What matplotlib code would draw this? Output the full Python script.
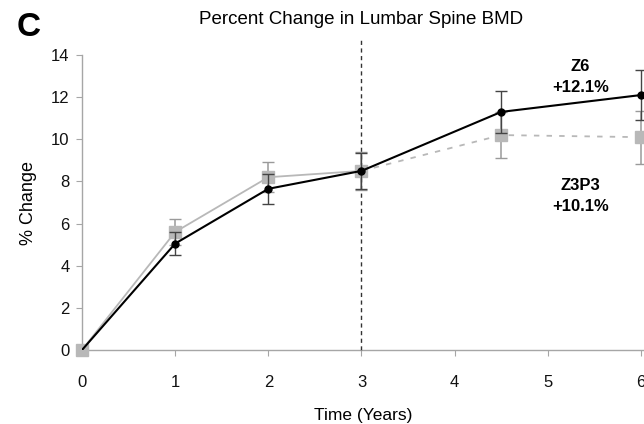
import matplotlib

matplotlib.use("Agg")
import matplotlib.pyplot as plt

plt.rcParams["font.family"] = ["Liberation Sans", "DejaVu Sans"]

# time points (years) and mean % change with error bars
years = [0, 1, 2, 3, 4.5, 6]
z6_mean = [0, 5.05, 7.65, 8.5, 11.3, 12.1]
z6_err = [0, 0.55, 0.7, 0.85, 1.0, 1.2]
z3p3_mean = [0, 5.6, 8.2, 8.5, 10.2, 10.1]
z3p3_err = [0, 0.6, 0.7, 0.9, 1.1, 1.25]
y_ticks = [0, 2, 4, 6, 8, 10, 12, 14]
x_ticks = [0, 1, 2, 3, 4, 5, 6]
switch_year = 3

GRAY = "#b8b8b8"
AXIS = "#a6a6a6"

fig = plt.figure(figsize=(6.44, 4.24), dpi=100, facecolor="white")
ax = fig.add_axes([0.1273, 0.1745, 0.8727, 0.6958])

# Z3P3: solid up to year 3, dashed afterwards
n3 = years.index(switch_year) + 1
ax.plot(years[:n3], z3p3_mean[:n3], color=GRAY, lw=1.3, zorder=2)
ax.plot(years[n3 - 1:], z3p3_mean[n3 - 1:], color=GRAY, lw=1.3,
        ls=(0, (3, 4)), zorder=2)
z3 = ax.errorbar(years, z3p3_mean, yerr=z3p3_err, fmt="s", color=GRAY,
                 ms=9, ecolor="#9a9a9a", elinewidth=1.1, capsize=4, zorder=3)
for art in z3.lines[0:1]:
    art.set_clip_on(False)

# Z6 continuous
ax.errorbar(years[1:], z6_mean[1:], yerr=z6_err[1:], fmt="o-", color="black",
            ms=5, lw=1.5, ecolor="#444444", elinewidth=1.0, capsize=4, zorder=4)
ax.plot(years[:2], z6_mean[:2], color="black", lw=1.5, zorder=4)

ax.plot([switch_year, switch_year], [0, 14.75], color="#333333", lw=1.0,
        ls=(0, (3, 2.5)), clip_on=False, zorder=1)

ax.set_xlim(0, 6.032)
ax.set_ylim(0, 14)
ax.set_xticks(x_ticks)
ax.set_yticks(y_ticks)
ax.tick_params(axis="both", labelsize=12, color=AXIS, length=4, width=0.8,
               labelcolor="#111111")
ax.tick_params(axis="x", pad=14)
ax.tick_params(axis="y", pad=5)
for side in ("top", "right"):
    ax.spines[side].set_visible(False)
for side in ("left", "bottom"):
    ax.spines[side].set_color(AXIS)
    ax.spines[side].set_linewidth(1.0)
ax.spines["bottom"].set_zorder(0)

ax.set_ylabel("% Change", fontsize=13, labelpad=10)
ax.set_xlabel("Time (Years)", fontsize=12.5, labelpad=13)

ax.text(5.35, 12.95, "Z6\n+12.1%", ha="center", va="center",
        fontsize=12, fontweight="bold", linespacing=1.45)
ax.text(5.35, 7.3, "Z3P3\n+10.1%", ha="center", va="center",
        fontsize=12, fontweight="bold", linespacing=1.45)

fig.text(0.56, 0.955, "Percent Change in Lumbar Spine BMD", ha="center",
         va="center", fontsize=13.5)
fig.text(0.045, 0.935, "C", ha="center", va="center", fontsize=24,
         fontweight="bold")

fig.savefig("out.png", dpi=100, facecolor="white")
